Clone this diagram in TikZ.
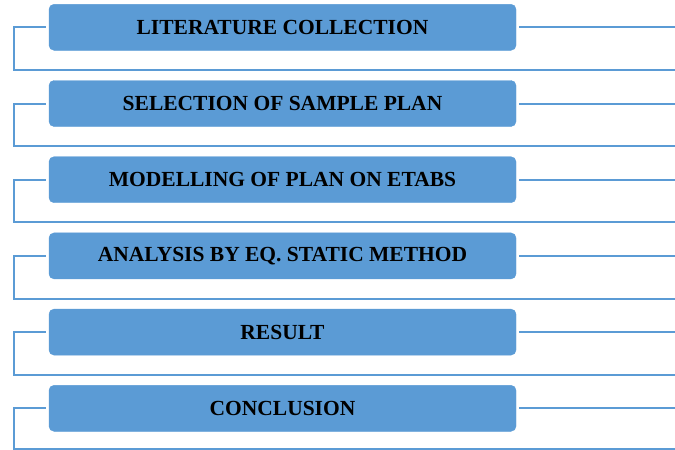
\documentclass[tikz,border=0pt]{standalone}
\usepackage{fontspec}
\setmainfont{Liberation Serif}
\definecolor{stepblue}{HTML}{5B9BD5}

\begin{document}
\begin{tikzpicture}[x=1pt, y=-1pt, stage/.style={draw=stepblue, fill=stepblue,
					rounded corners=5pt, minimum width=467pt, minimum height=46pt,
					inner sep=0pt, font=\fontsize{21.5}{25}\selectfont\bfseries},
		link/.style={draw=stepblue, line width=2pt}]
		\useasboundingbox (0,0) rectangle (675,450);

		\node[stage] (lit) at (282.5,27.3) {LITERATURE COLLECTION};
		\node[stage] (sel) at (282.5,103.5) {SELECTION OF SAMPLE PLAN};
		\node[stage] (mod) at (282.5,179.7) {MODELLING OF PLAN ON ETABS};
		\node[stage] (ana) at (282.5,255.9) {ANALYSIS BY EQ. STATIC METHOD};
		\node[stage] (res) at (282.5,332.1) {RESULT};
		\node[stage] (con) at (282.5,408.3) {CONCLUSION};

		% bracket corners on the left and free ends on the right
		\coordinate (litL) at (14,70);  \coordinate (litB) at (675,70);  \coordinate (litR) at (675,27.3);
		\coordinate (selL) at (14,146); \coordinate (selB) at (675,146); \coordinate (selR) at (675,103.5);
		\coordinate (modL) at (14,222); \coordinate (modB) at (675,222); \coordinate (modR) at (675,179.7);
		\coordinate (anaL) at (14,299); \coordinate (anaB) at (675,299); \coordinate (anaR) at (675,255.9);
		\coordinate (resL) at (14,375); \coordinate (resB) at (675,375); \coordinate (resR) at (675,332.1);
		\coordinate (conL) at (14,449); \coordinate (conB) at (675,449); \coordinate (conR) at (675,408.3);

		\draw[link] ([xshift=-3pt]lit.west) -| (litL) -- (litB);
		\draw[link] ([xshift=3pt]lit.east) -- (litR);
		\draw[link] ([xshift=-3pt]sel.west) -| (selL) -- (selB);
		\draw[link] ([xshift=3pt]sel.east) -- (selR);
		\draw[link] ([xshift=-3pt]mod.west) -| (modL) -- (modB);
		\draw[link] ([xshift=3pt]mod.east) -- (modR);
		\draw[link] ([xshift=-3pt]ana.west) -| (anaL) -- (anaB);
		\draw[link] ([xshift=3pt]ana.east) -- (anaR);
		\draw[link] ([xshift=-3pt]res.west) -| (resL) -- (resB);
		\draw[link] ([xshift=3pt]res.east) -- (resR);
		\draw[link] ([xshift=-3pt]con.west) -| (conL) -- (conB);
		\draw[link] ([xshift=3pt]con.east) -- (conR);
	\end{tikzpicture}
\end{document}
